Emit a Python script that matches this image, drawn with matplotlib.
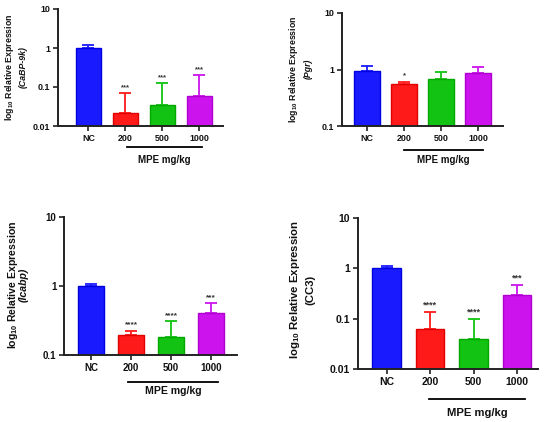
import matplotlib
matplotlib.use("Agg")
import matplotlib.pyplot as plt
import matplotlib.transforms as mtransforms
from matplotlib.ticker import FixedLocator, FixedFormatter, NullLocator

plt.rcParams['font.family'] = ['Liberation Sans', 'DejaVu Sans']
plt.rcParams['font.weight'] = 'bold'
plt.rcParams['mathtext.fontset'] = 'custom'
plt.rcParams['mathtext.rm'] = 'Liberation Sans:bold'
plt.rcParams['mathtext.bf'] = 'Liberation Sans:bold'
plt.rcParams['mathtext.it'] = 'Liberation Sans:bold:italic'

categories = ["NC", "200", "500", "1000"]
colors = ["#1a1aff", "#ff1a1a", "#13c313", "#cc13ee"]
edgecolors = ["#0000e0", "#e00000", "#00a800", "#b000d0"]
xlabel = "MPE mg/kg"

# panel data
cabp9k_mean = [1.0, 0.022, 0.035, 0.06]
cabp9k_top = [1.2, 0.07, 0.125, 0.2]
cabp9k_stars = ["", "***", "***", "***"]

pgr_mean = [0.95, 0.56, 0.68, 0.88]
pgr_top = [1.15, 0.61, 0.92, 1.1]
pgr_stars = ["", "*", "", ""]

icabp_mean = [1.0, 0.195, 0.185, 0.41]
icabp_top = [1.08, 0.225, 0.31, 0.56]
icabp_stars = ["", "****", "****", "***"]

cc3_mean = [1.0, 0.062, 0.04, 0.3]
cc3_top = [1.1, 0.135, 0.1, 0.47]
cc3_stars = ["", "****", "****", "***"]

W, H = 550, 422
fig = plt.figure(figsize=(5.5, 4.22), dpi=100)

panels = [
    dict(rect=(58, 9, 223, 126), means=cabp9k_mean, tops=cabp9k_top, stars=cabp9k_stars,
         ylim=(0.01, 10), yticks=[0.01, 0.1, 1, 10], ylab=["0.01", "0.1", "1", "10"],
         gene="(CaBP-9k)", italic=True, xlim=(-0.82, 3.64), bw=0.68,
         uline=(1.045, 3.07, -0.18), mpe_y=-0.29, fs=6.4, lfs=6.3,
         lab_x=(10, 23), lab_y=67, starfs=5.5),
    dict(rect=(342, 13, 503, 126), means=pgr_mean, tops=pgr_top, stars=pgr_stars,
         ylim=(0.1, 10), yticks=[0.1, 1, 10], ylab=["0.1", "1", "10"],
         gene="(Pgr)", italic=True, xlim=(-0.68, 3.67), bw=0.69,
         uline=(1.0, 3.13, -0.212), mpe_y=-0.30, fs=6.4, lfs=6.3,
         lab_x=(293, 308), lab_y=69, starfs=5.5),
    dict(rect=(64, 217, 237, 355), means=icabp_mean, tops=icabp_top, stars=icabp_stars,
         ylim=(0.1, 10), yticks=[0.1, 1, 10], ylab=["0.1", "1", "10"],
         gene="(Icabp)", italic=True, xlim=(-0.675, 3.65), bw=0.65,
         uline=(0.925, 3.175, -0.196), mpe_y=-0.26, fs=7, lfs=7.6,
         lab_x=(13, 24), lab_y=285, starfs=6),
    dict(rect=(358, 218, 538, 369), means=cc3_mean, tops=cc3_top, stars=cc3_stars,
         ylim=(0.01, 10), yticks=[0.01, 0.1, 1, 10], ylab=["0.01", "0.1", "1", "10"],
         gene="(CC3)", italic=False, xlim=(-0.655, 3.48), bw=0.65,
         uline=(0.977, 3.18, -0.199), mpe_y=-0.29, fs=7.5, lfs=8.2,
         lab_x=(295, 310), lab_y=290, starfs=6.5),
]

for p in panels:
    l, t, r, b = p["rect"]
    ax = fig.add_axes([l / W, 1 - b / H, (r - l) / W, (b - t) / H])
    x = list(range(len(categories)))
    ax.set_yscale("log")
    ax.set_ylim(*p["ylim"])
    ax.set_xlim(*p["xlim"])
    errs = [tp - m for tp, m in zip(p["tops"], p["means"])]
    for i in x:
        ax.bar(i, p["means"][i], width=p["bw"], color=colors[i],
               edgecolor=edgecolors[i], linewidth=1.0, zorder=2, bottom=1e-9)
        ax.errorbar(i, p["means"][i], yerr=[[0], [errs[i]]], color=colors[i],
                    capsize=4.5, elinewidth=1.3, capthick=1.3, fmt="none", zorder=1)
        if p["stars"][i]:
            ax.annotate(p["stars"][i], (i, p["tops"][i]), xytext=(0, 1.5),
                        textcoords="offset points", ha="center", va="bottom",
                        fontsize=p["starfs"], color="#333333")
    ax.set_ylim(*p["ylim"])
    for s in ["top", "right"]:
        ax.spines[s].set_visible(False)
    for s in ["left", "bottom"]:
        ax.spines[s].set_linewidth(1.4)
        ax.spines[s].set_color("#222222")
    ax.yaxis.set_major_locator(FixedLocator(p["yticks"]))
    ax.yaxis.set_major_formatter(FixedFormatter(p["ylab"]))
    ax.yaxis.set_minor_locator(NullLocator())
    ax.set_xticks(x)
    ax.set_xticklabels(categories)
    ax.tick_params(axis="both", labelsize=p["fs"], width=1.2, length=3.5, colors="#222222",
                   labelcolor="#111111", pad=2)
    for lab in ax.get_xticklabels() + ax.get_yticklabels():
        lab.set_fontweight("bold")
    trans = mtransforms.blended_transform_factory(ax.transData, ax.transAxes)
    x0, x1, yl = p["uline"]
    ax.plot([x0, x1], [yl, yl], transform=trans, color="black", lw=1.3, clip_on=False)
    ax.text((x0 + x1) / 2, p["mpe_y"], xlabel, transform=trans, ha="center", va="center",
            fontsize=p["fs"] + 0.6, fontweight="bold", color="#111111")
    lx1, lx2 = p["lab_x"]
    fig.text(lx1 / W, 1 - p["lab_y"] / H, r"log$_{\mathbf{10}}$ Relative Expression",
             rotation=90, ha="center", va="center", fontsize=p["lfs"], fontweight="bold",
             color="#111111")
    fig.text(lx2 / W, 1 - p["lab_y"] / H, p["gene"], rotation=90, ha="center", va="center",
             fontsize=p["lfs"], fontweight="bold",
             fontstyle="italic" if p["italic"] else "normal", color="#111111")

fig.savefig("out.png", dpi=100)
